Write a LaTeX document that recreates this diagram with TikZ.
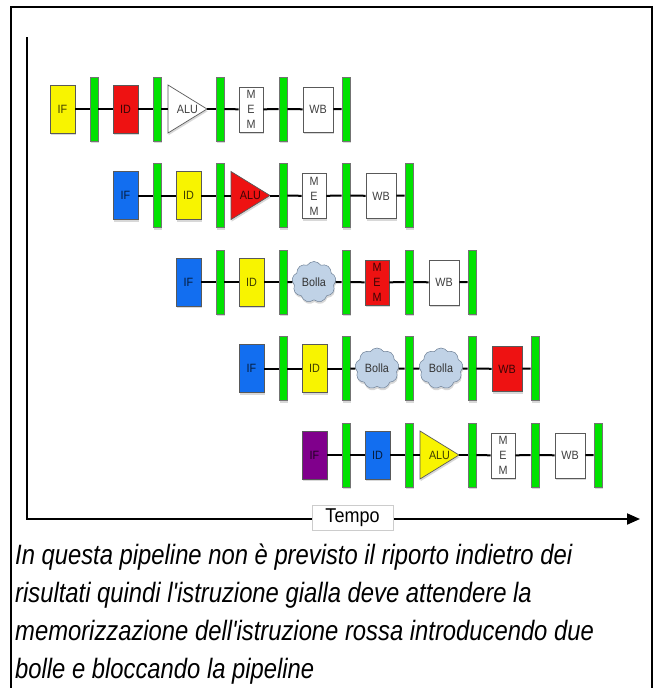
\documentclass[tikz,border=0pt]{standalone}
\usepackage{fontspec}
\setmainfont{Liberation Sans}
\newfontfamily\boxfont[FakeStretch=0.9]{Liberation Sans}
\newfontfamily\capfont[FakeStretch=0.85]{Liberation Sans}
\usetikzlibrary{shapes.symbols,shadows,arrows.meta}

\definecolor{ppyellow}{RGB}{248,244,0}
\definecolor{ppred}{RGB}{238,18,18}
\definecolor{ppblue}{RGB}{18,110,240}
\definecolor{pppurple}{RGB}{128,0,140}
\definecolor{latchgreen}{RGB}{0,226,0}
\definecolor{bubblefill}{RGB}{192,210,230}
\definecolor{bubbleedge}{RGB}{110,128,150}

\tikzset{
  softshadow/.style={drop shadow={shadow xshift=0.6pt, shadow yshift=-2.2pt, opacity=0.3}},
  stagefill/.style={fill=#1, text=#1!25!black},
  stagebox/.style={rectangle, draw=black!65, line width=0.7pt, inner sep=0pt,
    font=\boxfont\fontsize{12}{15}\selectfont, softshadow},
  ifsize/.style={minimum width=25pt, minimum height=48pt},
  wbsize/.style={minimum width=30pt, minimum height=45pt},
  memsize/.style={minimum width=24pt, minimum height=45pt, align=center},
  aluslot/.style={rectangle, minimum width=39pt, minimum height=48pt, inner sep=0pt,
    font=\boxfont\fontsize{12}{15}\selectfont},
  latch/.style={rectangle, fill=latchgreen, draw=black!55, line width=0.6pt,
    minimum width=8pt, minimum height=64pt, inner sep=0pt, softshadow},
  bubble/.style={cloud, cloud puffs=9, cloud puff arc=115, aspect=1.1,
    minimum width=44pt, minimum height=41pt, inner sep=0pt, draw=bubbleedge,
    line width=0.5pt, fill=bubblefill, text=black!80, softshadow,
    font=\boxfont\fontsize{12}{15}\selectfont},
  wire/.style={draw=black, line width=2pt},
  axisline/.style={draw=black, line width=2pt},
  frameline/.style={draw=black, line width=2pt},
  caption/.style={anchor=base west, inner sep=0pt,
    font=\capfont\itshape\fontsize{28}{30}\selectfont},
}

\newcommand\AluSlot[1]{%
  \filldraw[fill=#1, draw=black!65, line width=0.7pt, softshadow]
    (168,85) -- (207,109) -- (168,133) -- cycle;
  \node[aluslot, text=#1!25!black] (s3) at (187.5,109) {ALU};}
\newcommand\BubbleSlot[2]{\node[bubble] (#1) at (#2,109) {Bolla};}
\newcommand\MemSlot[1]{\node[stagebox, memsize, stagefill=#1] (s4) at (251,109.5) {M\\E\\M};}

\newcommand\PipeRow[6]{%
\begin{scope}[shift={(63*#1,86.5*#1)}, name prefix=r#1-]
  \node[stagebox, ifsize, stagefill=#2] (s1) at (62.5,109) {IF};
  \node[latch] (b1) at (94,109) {};
  \node[stagebox, ifsize, stagefill=#3] (s2) at (125.5,109) {ID};
  \node[latch] (b2) at (157,109) {};
  #4
  \node[latch] (b3) at (220,109) {};
  #5
  \node[latch] (b4) at (283,109) {};
  \node[stagebox, wbsize, stagefill=#6] (s5) at (318,109.5) {WB};
  \node[latch] (b5) at (346,109) {};
  \foreach \a/\b in {s1/b1,b1/s2,s2/b2,b2/s3,s3/b3,b3/s4,s4/b4,b4/s5,s5/b5}
    \draw[wire] (\a) -- (\b);
\end{scope}}

\begin{document}
\begin{tikzpicture}[x=1pt, y=-1pt]
\useasboundingbox (0,0) rectangle (654,688);
\fill[white] (0,0) rectangle (654,688);
\draw[frameline] (11,688) -- (11,7) -- (652,7) -- (652,688);

\PipeRow{0}{ppyellow}{ppred}{\AluSlot{white}}{\MemSlot{white}}{white}
\PipeRow{1}{ppblue}{ppyellow}{\AluSlot{ppred}}{\MemSlot{white}}{white}
\PipeRow{2}{ppblue}{ppyellow}{\BubbleSlot{s3}{188}}{\MemSlot{ppred}}{white}
\PipeRow{3}{ppblue}{ppyellow}{\BubbleSlot{s3}{188}}{\BubbleSlot{s4}{252}}{ppred}
\PipeRow{4}{pppurple}{ppblue}{\AluSlot{ppyellow}}{\MemSlot{white}}{white}

\coordinate (ytop) at (27,37);
\coordinate (origin) at (27,519);
\coordinate (xtip) at (640,519);
\draw[axisline, -{Triangle[length=13pt, width=11pt]}] (ytop) -- (origin) -- (xtip);
\node[draw=black!20, fill=white, line width=0.6pt, inner sep=0pt,
  minimum width=81pt, minimum height=25pt,
  font=\boxfont\fontsize{20}{22}\selectfont] (tempo) at (352.5,518) {Tempo};

\node[caption] (cap1) at (15,564) {In questa pipeline non è previsto il riporto indietro dei};
\node[caption] (cap2) at (15,602) {risultati quindi l'istruzione gialla deve attendere la};
\node[caption] (cap3) at (15,640) {memorizzazione dell'istruzione rossa introducendo due};
\node[caption] (cap4) at (15,678) {bolle e bloccando la pipeline};
\end{tikzpicture}
\end{document}
